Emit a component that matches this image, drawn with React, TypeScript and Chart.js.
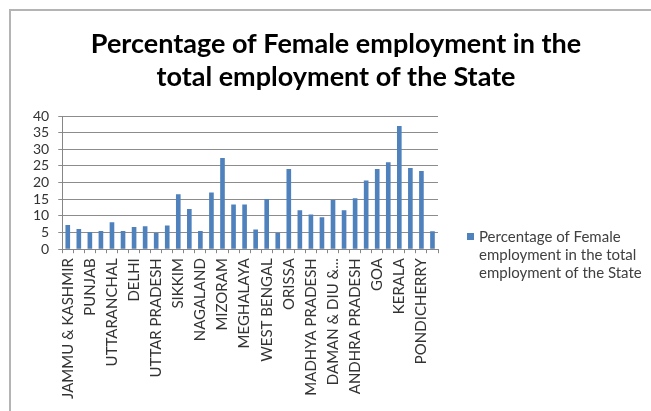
import React, { useEffect, useRef } from "react";
import { Chart, registerables } from "chart.js";

Chart.register(...registerables);

const states: string[] = [
  "JAMMU & KASHMIR", "HIMACHAL PRADESH", "PUNJAB", "CHANDIGARH", "UTTARANCHAL",
  "HARYANA", "DELHI", "RAJASTHAN", "UTTAR PRADESH", "BIHAR",
  "SIKKIM", "ARUNACHAL PRADESH", "NAGALAND", "MANIPUR", "MIZORAM",
  "TRIPURA", "MEGHALAYA", "ASSAM", "WEST BENGAL", "JHARKHAND",
  "ORISSA", "CHHATTISGARH", "MADHYA PRADESH", "GUJARAT", "DAMAN & DIU &...",
  "MAHARASHTRA", "ANDHRA PRADESH", "KARNATAKA", "GOA", "LAKSHADWEEP",
  "KERALA", "TAMIL NADU", "PONDICHERRY", "A & N ISLANDS",
];

const femaleShare: number[] = [
  7.3, 6.1, 5.2, 5.5, 8.1,
  5.5, 6.7, 6.9, 4.9, 7.1,
  16.5, 12.1, 5.5, 17.0, 27.4,
  13.4, 13.4, 5.9, 15.1, 4.9,
  24.1, 11.7, 10.4, 9.6, 14.8,
  11.7, 15.3, 20.6, 24.1, 26.1,
  37.0, 24.4, 23.5, 5.4,
];

const seriesName = "Percentage of Female employment in the total employment of the State";
const legendLines: string[] = ["Percentage of Female", "employment in the total", "employment of the State"];
const titleLines: string[] = ["Percentage of Female employment in the", "total employment of the State"];

const FONT = "Lato, 'Open Sans', sans-serif";
const BAR = "#4F81BD";

const decorPlugin = {
  id: "decor",
  beforeDraw(chart: any) {
    const ctx = chart.ctx;
    ctx.save();
    ctx.strokeStyle = "#b4b4b4";
    ctx.lineWidth = 2;
    ctx.strokeRect(10, 10, 700, 450);
    ctx.restore();
  },
  afterDraw(chart: any) {
    const ctx = chart.ctx;
    ctx.save();
    // title
    ctx.fillStyle = "#000000";
    ctx.font = `bold 27px ${FONT}`;
    ctx.textAlign = "center";
    ctx.textBaseline = "alphabetic";
    ctx.fillText(titleLines[0], 336, 53);
    ctx.fillText(titleLines[1], 336, 86);
    // legend
    const x = 467;
    const y0 = 237;
    ctx.textAlign = "left";
    ctx.fillStyle = BAR;
    ctx.fillRect(x, y0 - 4, 7, 7);
    ctx.fillStyle = "#404040";
    ctx.font = `15px ${FONT}`;
    ctx.textBaseline = "middle";
    legendLines.forEach((t, i) => ctx.fillText(t, x + 12, y0 + i * 18));
    ctx.restore();
  },
};

export default function App() {
  const ref = useRef<HTMLCanvasElement | null>(null);
  useEffect(() => {
    if (!ref.current) return;
    const chart = new Chart(ref.current, {
      type: "bar",
      data: {
        labels: states,
        datasets: [
          {
            label: seriesName,
            data: femaleShare,
            backgroundColor: BAR,
            borderWidth: 0,
            barPercentage: 0.42,
            categoryPercentage: 1,
          },
        ],
      },
      options: {
        animation: false,
        responsive: false,
        layout: { padding: { left: 24, right: 213, top: 60, bottom: 7 } },
        plugins: {
          legend: { display: false },
          tooltip: { enabled: false },
          title: {
            display: true,
            text: " ",
            color: "rgba(0,0,0,0)",
            font: { size: 10, lineHeight: 1.2 },
            padding: { top: 0, bottom: 44 },
          },
        },
        scales: {
          x: {
            grid: {
              display: true,
              drawOnChartArea: false,
              drawTicks: true,
              tickLength: 4,
              color: "#868686",
            },
            border: { display: true, color: "#868686" },
            ticks: {
              autoSkip: false,
              minRotation: 90,
              maxRotation: 90,
              color: "#333333",
              font: { family: FONT, size: 15 },
              padding: 5,
              callback: function (this: any, value: any, index: number) {
                return index % 2 === 0 ? this.getLabelForValue(value) : "";
              },
            },
          },
          y: {
            min: 0,
            max: 40,
            ticks: {
              stepSize: 5,
              autoSkip: false,
              color: "#333333",
              font: { family: FONT, size: 14 },
              padding: 9,
            },
            grid: { color: "#8c8c8c", tickLength: 4 },
            border: { display: true, color: "#868686" },
          },
        },
      },
      plugins: [decorPlugin],
    });
    return () => chart.destroy();
  }, []);
  return (
    <div style={{ width: 651, height: 411 }}>
      <style>{`body{margin:0}`}</style>
      <canvas ref={ref} width={651} height={411} style={{ display: "block" }} />
    </div>
  );
}
